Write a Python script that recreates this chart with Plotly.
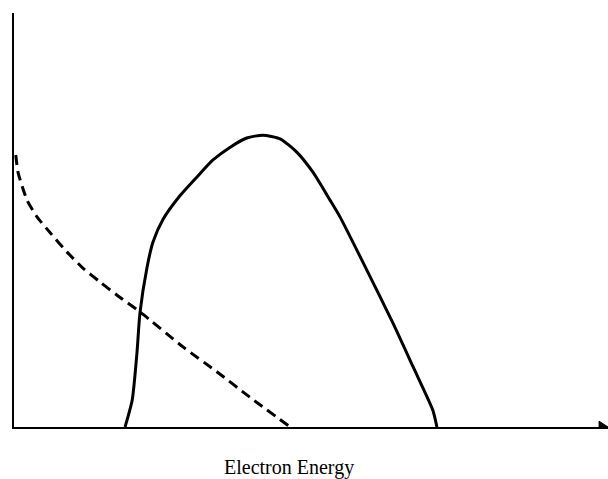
import plotly.graph_objects as go

# Dashed curve (decreasing)
dash_x = [0.3, 0.7, 2.2, 3.9, 6.1, 8.9, 11.6, 14.5, 17.3, 21.2, 28.5, 34.2, 39.7, 46.5]
dash_y = [65.7, 61.4, 54.8, 50.7, 46.9, 42.3, 38.4, 35.0, 31.9, 27.8, 19.3, 13.3, 7.2, 0.0]

# Solid curve (peaked spectrum)
solid_x = [18.7, 19.9, 20.7, 21.2, 22.4, 23.4, 25.1, 27.9, 30.8, 33.5, 36.4, 39.2, 41.9,
           44.8, 47.6, 50.3, 53.2, 54.9, 59.4, 63.8, 67.2, 70.5, 71.2]
solid_y = [0.0, 6.5, 17.9, 27.5, 38.6, 44.7, 50.2, 55.8, 60.4, 64.5, 67.6, 69.8, 70.5,
           69.6, 66.4, 61.6, 54.8, 50.7, 37.9, 25.1, 14.5, 4.1, 0.0]

x_label = "Electron Energy"

fig = go.Figure()
fig.add_trace(go.Scatter(x=dash_x, y=dash_y, mode="lines",
                         line=dict(color="black", width=3, dash="10px,6px", shape="spline", smoothing=0.6),
                         cliponaxis=False, showlegend=False, hoverinfo="skip"))
fig.add_trace(go.Scatter(x=solid_x, y=solid_y, mode="lines",
                         line=dict(color="black", width=3, shape="spline", smoothing=0.6),
                         cliponaxis=False, showlegend=False, hoverinfo="skip"))

# arrow head at right end of x axis
fig.add_shape(type="path", xref="x", yref="y",
              path="M 98.5,1.4 L 100,0 L 98.5,-1.4 Z",
              fillcolor="black", line=dict(color="black", width=1))

fig.add_annotation(text=x_label, xref="paper", yref="paper", x=0.463, y=-0.066,
                   xanchor="center", yanchor="top", showarrow=False,
                   font=dict(family="Liberation Serif", size=20, color="black"))

fig.update_xaxes(range=[0, 100], showline=True, linecolor="black", linewidth=1.5,
                 showgrid=False, zeroline=False, showticklabels=False, ticks="")
fig.update_yaxes(range=[0, 100], showline=True, linecolor="black", linewidth=1.5,
                 showgrid=False, zeroline=False, showticklabels=False, ticks="")
fig.update_layout(width=608, height=479, margin=dict(l=14, r=0, t=13, b=52),
                  plot_bgcolor="white", paper_bgcolor="white")

fig.write_html("out.html", config={"displayModeBar": False},
               post_script="document.body.style.margin='0';document.body.style.overflow='hidden';")
